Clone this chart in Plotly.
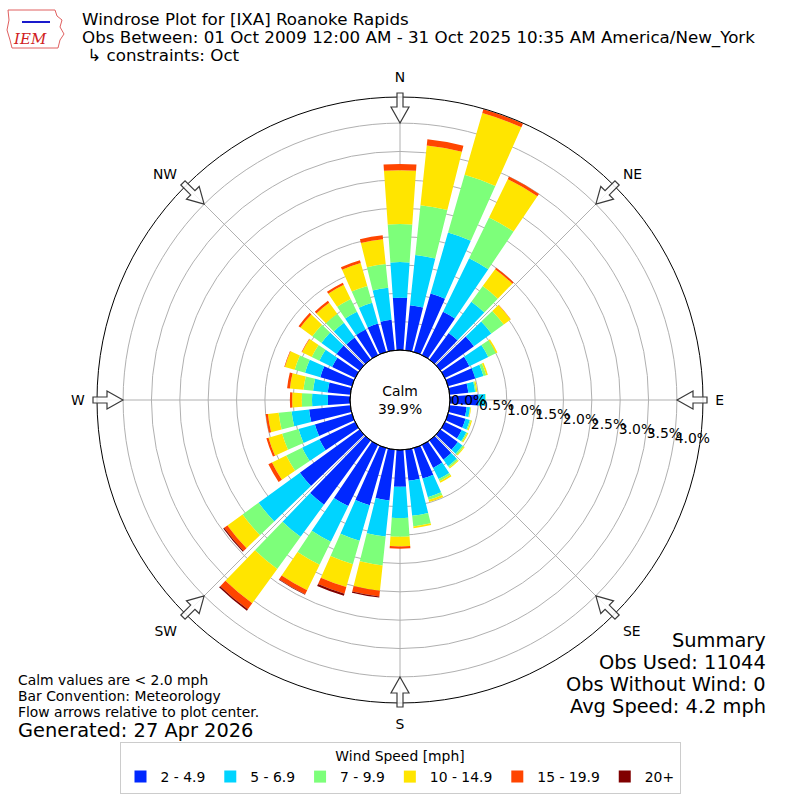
import math
import plotly.graph_objects as go

# ---------------- data ----------------
directions = [0, 10, 20, 30, 40, 50, 60, 70, 80, 90, 100, 110, 120, 130, 140, 150, 160, 170,
              180, 190, 200, 210, 220, 230, 240, 250, 260, 270, 280, 290, 300, 310, 320, 330, 340, 350]

speed_bins = ["2 - 4.9", "5 - 6.9", "7 - 9.9", "10 - 14.9", "15 - 19.9", "20+"]
bin_colors = ["#0028ff", "#00d4ff", "#7dff7a", "#ffe500", "#ff4500", "#800000"]

# frequency (%) per direction for each speed bin
pct_2_5 = [0.92, 0.80, 1.07, 0.85, 0.58, 0.73, 0.48, 0.50, 0.33, 0.50, 0.30, 0.32, 0.33, 0.38, 0.42, 0.45, 0.56, 0.55,
           0.65, 0.90, 1.05, 1.20, 1.40, 1.30, 0.70, 0.68, 0.73, 0.39, 0.40, 0.58, 0.45, 0.50, 0.48, 0.50, 0.52, 0.54]
pct_5_7 = [0.63, 0.89, 1.12, 1.05, 0.68, 0.38, 0.37, 0.15, 0.12, 0.12, 0.06, 0.08, 0.09, 0.10, 0.14, 0.22, 0.34, 0.62,
           0.55, 0.64, 0.65, 0.70, 0.70, 0.90, 0.34, 0.30, 0.31, 0.28, 0.26, 0.28, 0.25, 0.33, 0.32, 0.35, 0.38, 0.57]
pct_7_10 = [0.67, 0.88, 1.06, 0.80, 0.34, 0.27, 0.15, 0.05, 0.02, 0.01, 0.01, 0.02, 0.02, 0.03, 0.03, 0.04, 0.05, 0.19,
            0.33, 0.51, 0.43, 0.45, 0.70, 0.35, 0.31, 0.30, 0.23, 0.18, 0.17, 0.19, 0.15, 0.20, 0.20, 0.25, 0.31, 0.42]
pct_10_15 = [0.95, 1.06, 1.13, 0.75, 0.37, 0.15, 0.03, 0.03, 0.02, 0.00, 0.01, 0.02, 0.02, 0.02, 0.02, 0.03, 0.04, 0.03,
             0.17, 0.45, 0.42, 0.50, 0.75, 0.33, 0.28, 0.25, 0.19, 0.17, 0.24, 0.18, 0.19, 0.26, 0.24, 0.28, 0.42, 0.44]
pct_15_20 = [0.11, 0.11, 0.07, 0.05, 0.03, 0.005, 0.0, 0.0, 0.0, 0.0, 0.0, 0.0, 0.0, 0.0, 0.0, 0.0, 0.0, 0.0,
             0.04, 0.10, 0.12, 0.08, 0.13, 0.07, 0.07, 0.04, 0.04, 0.04, 0.05, 0.01, 0.01, 0.04, 0.04, 0.04, 0.05, 0.07]
pct_20p = [0.0, 0.0, 0.0, 0.0, 0.0, 0.0, 0.0, 0.0, 0.0, 0.0, 0.0, 0.0, 0.0, 0.0, 0.0, 0.0, 0.0, 0.0,
           0.0, 0.02, 0.04, 0.01, 0.03, 0.02, 0.0, 0.0, 0.0, 0.0, 0.0, 0.0, 0.0, 0.0, 0.0, 0.0, 0.0, 0.0]
series = [pct_2_5, pct_5_7, pct_7_10, pct_10_15, pct_15_20, pct_20p]

radial_ticks = [0.0, 0.5, 1.0, 1.5, 2.0, 2.5, 3.0, 3.5, 4.0]
radial_max = 4.46
compass_angles = [0, 45, 90, 135, 180, 225, 270, 315]
compass_labels = ["N", "NE", "E", "SE", "S", "SW", "W", "NW"]

calm_pct = 39.9
title_lines = ["Windrose Plot for [IXA] Roanoke Rapids",
               "Obs Between: 01 Oct 2009 12:00 AM - 31 Oct 2025 10:35 AM America/New_York",
               " \u21b3 constraints: Oct"]
left_notes = ["Calm values are < 2.0 mph", "Bar Convention: Meteorology",
              "Flow arrows relative to plot center."]
generated = "Generated: 27 Apr 2026"
summary_lines = ["Summary", "Obs Used: 11044", "Obs Without Wind: 0", "Avg Speed: 4.2 mph"]

# ---------------- figure ----------------
W = H = 800
CX, CY, R = 400, 400, 303
HOLE = 50
FONT = "DejaVu Sans"
SMALL, MID, BIG = 13.9, 16.7, 19.4
RAD_ANGLE = -9.6

fig = go.Figure()
for name, col, vals in zip(speed_bins, bin_colors, series):
    fig.add_trace(go.Barpolar(
        r=vals, theta=directions, width=[8] * len(directions), name=name,
        marker=dict(color=col, line=dict(width=0)), hoverinfo="skip"))


def px(x):
    return x / W


def py(y):
    return 1 - y / H


fig.update_layout(
    width=W, height=H, margin=dict(l=0, r=0, t=0, b=0),
    paper_bgcolor="white", plot_bgcolor="white",
    font=dict(family=FONT, color="black", size=SMALL),
    polar=dict(
        domain=dict(x=[px(CX - R), px(CX + R)], y=[1 - (CY + R) / H, 1 - (CY - R) / H]),
        hole=HOLE / R, bgcolor="white", barmode="stack",
        angularaxis=dict(direction="clockwise", rotation=90, tickmode="array",
                         tickvals=compass_angles, ticktext=compass_labels,
                         showline=True, linecolor="black", linewidth=1,
                         showgrid=True, gridcolor="#b0b0b0", gridwidth=1,
                         ticks="outside", ticklen=9, tickcolor="rgba(0,0,0,0)",
                         tickfont=dict(size=SMALL, family=FONT)),
        radialaxis=dict(range=[0, radial_max], tickmode="array", tickvals=radial_ticks,
                        ticktext=["%.1f%%" % v for v in radial_ticks],
                        angle=RAD_ANGLE, side="counterclockwise", tickangle=RAD_ANGLE, showline=False,
                        showgrid=True, gridcolor="#b0b0b0", gridwidth=1,
                        ticks="", tickfont=dict(size=SMALL, family=FONT)),
    ),
    showlegend=True,
    legend=dict(orientation="h", x=0.5, xanchor="center", y=py(742), yanchor="top",
                bgcolor="white", bordercolor="#cccccc", borderwidth=1,
                title=dict(text="Wind Speed [mph]", side="top center", font=dict(size=SMALL)),
                font=dict(size=SMALL), traceorder="normal", itemwidth=30),
)

shapes = []
shapes.append(dict(type="circle", xref="paper", yref="paper",
                   x0=px(CX - HOLE), x1=px(CX + HOLE), y0=py(CY + HOLE), y1=py(CY - HOLE),
                   line=dict(color="black", width=1)))
arrow_local = [(277, 0), (293, -9), (293, -3), (307, -3), (307, 3), (293, 3), (293, 9)]
for b in compass_angles:
    br = math.radians(b)
    ux, uy = math.sin(br), -math.cos(br)
    vx, vy = math.cos(br), math.sin(br)
    pts = [(CX + u * ux + v * vx, CY + u * uy + v * vy) for u, v in arrow_local]
    path = "M " + " L ".join("%.5f %.5f" % (px(x), py(y)) for x, y in pts) + " Z"
    shapes.append(dict(type="path", xref="paper", yref="paper", path=path,
                       line=dict(color="#3a3a3a", width=1.2), fillcolor="rgba(255,255,255,0.85)"))
logo = [(8, 10), (55, 10), (57, 16), (62, 20), (60, 27), (64, 34), (60, 40), (58, 48), (12, 48), (10, 40), (7, 30), (9, 20)]
shapes.append(dict(type="path", xref="paper", yref="paper",
                   path="M " + " L ".join("%.5f %.5f" % (px(x), py(y)) for x, y in logo) + " Z",
                   line=dict(color="#e06060", width=1), fillcolor="white"))
shapes.append(dict(type="line", xref="paper", yref="paper", x0=px(22), x1=px(50), y0=py(22), y1=py(22),
                   line=dict(color="#1a1acc", width=2)))
fig.update_layout(shapes=shapes)

ann = []
ann.append(dict(text="<i>IEM</i>", x=px(30), y=py(39), xref="paper", yref="paper", showarrow=False,
                font=dict(family="DejaVu Serif", size=15, color="#d02020"), xanchor="center", yanchor="middle"))
for i, t in enumerate(title_lines):
    ann.append(dict(text=t, x=px(80), y=py(19 + 18 * i), xref="paper", yref="paper", showarrow=False,
                    xanchor="left", yanchor="middle", font=dict(size=MID)))
ann.append(dict(text="Calm<br>%.1f%%" % calm_pct, x=0.5, y=0.5, xref="paper", yref="paper", showarrow=False,
                font=dict(size=SMALL)))
for i, t in enumerate(left_notes):
    ann.append(dict(text=t, x=px(16), y=py(680 + 16 * i), xref="paper", yref="paper", showarrow=False,
                    xanchor="left", yanchor="middle", font=dict(size=SMALL)))
ann.append(dict(text=generated, x=px(16), y=py(730), xref="paper", yref="paper", showarrow=False,
                xanchor="left", yanchor="middle", font=dict(size=BIG)))
for i, t in enumerate(summary_lines):
    ann.append(dict(text=t, x=px(768), y=py(640 + 22 * i), xref="paper", yref="paper", showarrow=False,
                    xanchor="right", yanchor="middle", font=dict(size=BIG)))
fig.update_layout(annotations=ann)

fig.write_html("out.html", config={"displayModeBar": False},
               post_script="document.body.style.margin='0';document.body.style.padding='0';")
